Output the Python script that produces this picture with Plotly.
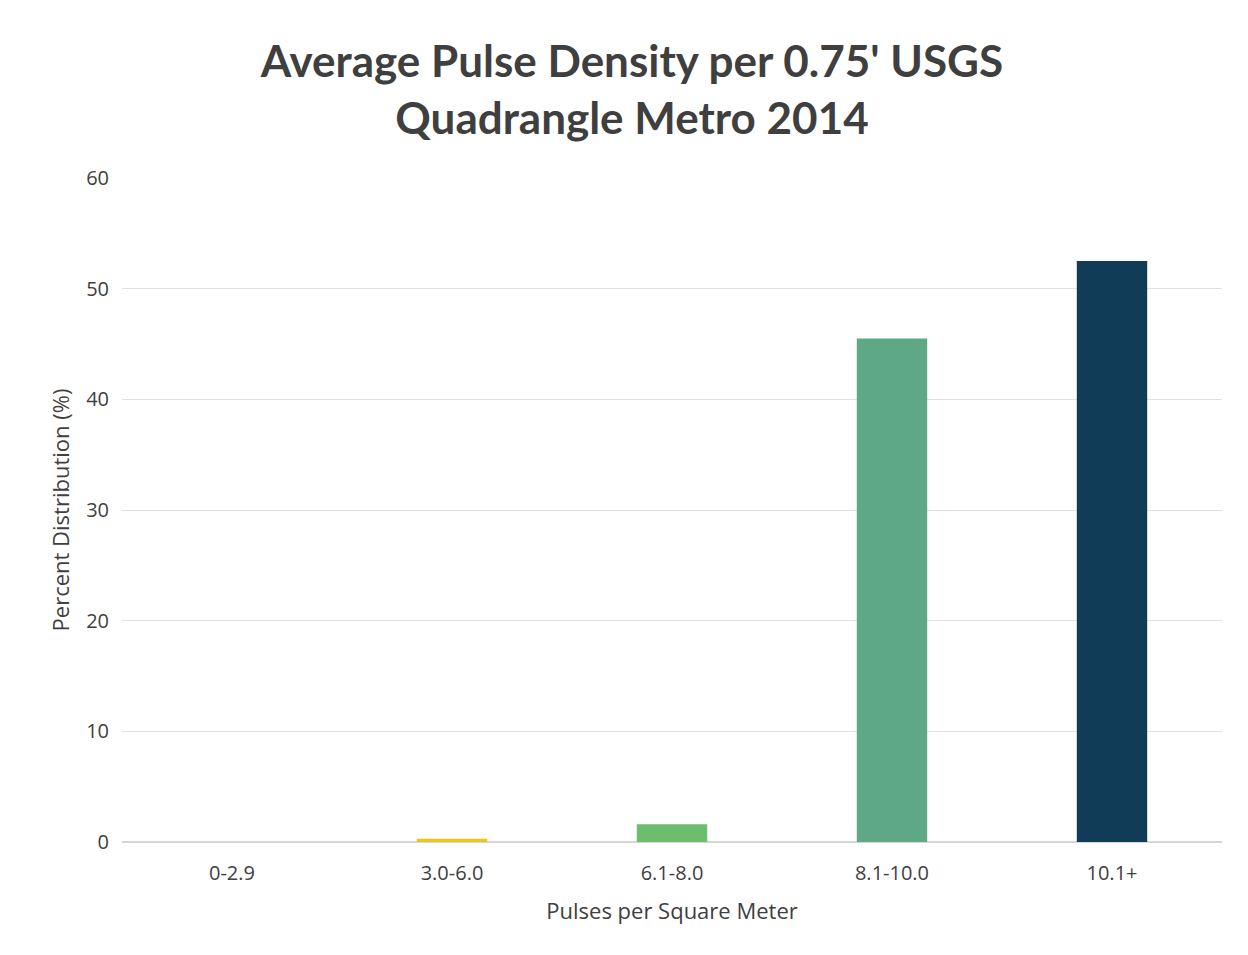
import plotly.graph_objects as go

categories = ["0-2.9", "3.0-6.0", "6.1-8.0", "8.1-10.0", "10.1+"]
values = [0.0, 0.3, 1.6, 45.5, 52.5]
colors = ["#f0c419", "#f0c419", "#6cbd6e", "#5ea886", "#113c58"]
y_ticks = [0, 10, 20, 30, 40, 50, 60]

fig = go.Figure(go.Bar(x=categories, y=values, marker=dict(color=colors, line=dict(width=0)), showlegend=False))

fig.update_layout(
    width=1248, height=955,
    paper_bgcolor="white", plot_bgcolor="white",
    margin=dict(l=114, r=34, t=170, b=121),
    bargap=0.68,
    title=dict(text="Average Pulse Density per 0.75' USGS<br>Quadrangle Metro 2014",
               x=0.5, xanchor="center", y=0.928, yanchor="middle",
               font=dict(family="Lato", size=44, color="#3f3f3f", weight="bold")),
    font=dict(family="Open Sans", color="#404040"),
)
fig.update_xaxes(title=dict(text="Pulses per Square Meter", font=dict(size=22, color="#404040"), standoff=18),
                 tickfont=dict(size=20, color="#404040"), showline=False, showgrid=False,
                 ticks="outside", ticklen=13, tickcolor="white")
fig.update_yaxes(title=dict(text="Percent Distribution (%)", font=dict(size=22, color="#404040"), standoff=10),
                 range=[0, 60], tickvals=y_ticks, tickfont=dict(size=20, color="#404040"),
                 showgrid=True, gridcolor="#e0e0e0", gridwidth=1, zeroline=True, zerolinecolor="#d6d6d6",
                 ticks="outside", ticklen=8, tickcolor="white")

fig.write_html("out.html")
